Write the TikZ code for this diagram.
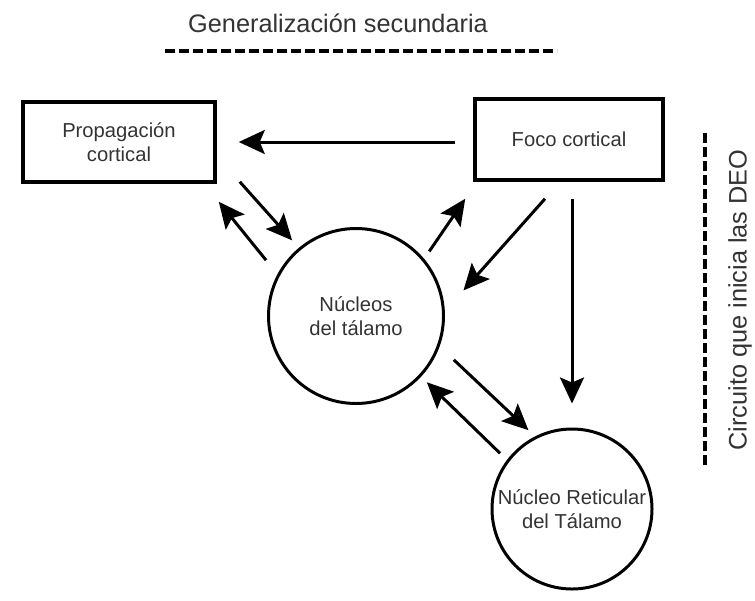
\documentclass[tikz,border=0pt]{standalone}
\usepackage{fontspec}
\setmainfont{Liberation Sans}
\usetikzlibrary{calc, arrows.meta, positioning}

\begin{document}
\begin{tikzpicture}[box/.style={draw, line width=2pt, minimum width=3.8cm, minimum height=1.6cm, align=center, font=\fontsize{11.5}{13.5}\selectfont, text=black!80},
  nucleo/.style={draw, circle, line width=1.7pt, inner sep=0pt, align=center, font=\fontsize{11.5}{13.5}\selectfont, text=black!80},
  arr/.style={line width=1.7pt, -{Stealth[length=0.52cm, width=0.48cm, inset=0.1cm]}},
  sep/.style={line width=2.2pt, dash pattern=on 0.2cm off 0.08cm},
  lbl/.style={font=\fontsize{14.4}{16}\selectfont, text=black!80}]
  \useasboundingbox (0,0) rectangle (15.1,-12);

  \node[lbl, anchor=base] (gen) at (6.76,-0.64) {Generalización secundaria};
  \coordinate (g1) at (3.3,-1.02);
  \coordinate (g2) at (11.14,-1.02);
  \draw[sep] (g1) -- (g2);

  \node[box, minimum width=3.84cm] (prop) at (2.38,-2.84) {Propagación\\cortical};
  \node[box, minimum width=3.76cm, minimum height=1.62cm] (foco) at (11.38,-2.79) {Foco cortical};
  \node[nucleo, minimum size=3.5cm] (nuc) at (7.12,-6.32) {Núcleos\\del tálamo};
  \node[nucleo, minimum size=3.2cm] (ret) at (11.44,-10.18) {Núcleo Reticular\\del Tálamo};

  \node[lbl, rotate=90] (circ) at (14.8,-6.0) {Circuito que inicia las DEO};
  \coordinate (c1) at (14.1,-2.66);
  \coordinate (c2) at (14.1,-9.34);
  \draw[sep, line width=1.8pt] (c1) -- (c2);

  % corteza
  \draw[arr, shorten <=0.36cm, shorten >=0.44cm] (prop.east -| foco.west) -- (prop.east);
  \draw[arr, shorten >=0.2cm] ($(prop.south east)+(0.46,0.04)$) -- (nuc.130.8);
  \draw[arr, shorten <=0.36cm] (nuc.152.7) -- ($(prop.south east)+(0.04,-0.36)$);
  \draw[arr, shorten <=0.18cm] (nuc.40.3) -- ($(foco.south west)+(-0.16,-0.34)$);
  \draw[arr, shorten >=0.56cm] ($(foco.south)+(-0.48,-0.34)$) -- (nuc.3);
  \draw[arr, shorten <=0.34cm, shorten >=0.48cm] (ret.north |- foco.south) -- (ret.north);

  % talamo
  \draw[arr, shorten <=0.39cm, shorten >=0.18cm] (nuc.-20.5) -- (ret.117.9);
  \draw[arr, shorten <=0.19cm, shorten >=0.16cm] (ret.143.6) -- (nuc.-43.7);
\end{tikzpicture}
\end{document}
